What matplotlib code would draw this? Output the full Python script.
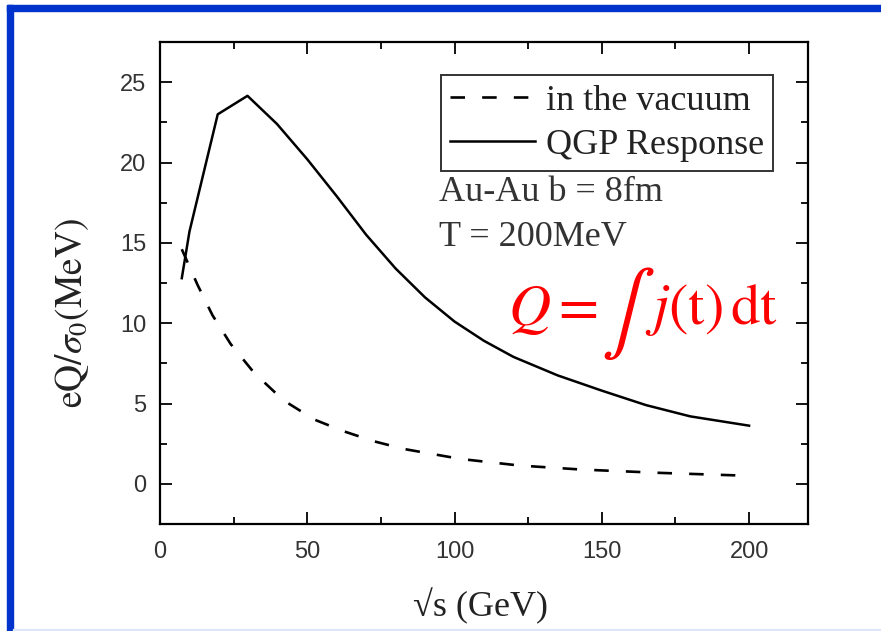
import numpy as np
import matplotlib
matplotlib.use("Agg")
import matplotlib.pyplot as plt
from matplotlib.patches import Rectangle

plt.rcParams['font.family'] = ['Liberation Sans', 'DejaVu Sans']
plt.rcParams['mathtext.fontset'] = 'stix'

# charge vs collision energy
sqrt_s_qgp = [7.4, 10.0, 19.6, 29.7, 39.7, 50.0, 60.0, 70.0, 80.0, 90.0, 100.0, 110.0,
              120.0, 135.0, 150.0, 165.0, 180.0, 200.0]
q_qgp = [12.8, 15.7, 23.0, 24.15, 22.4, 20.2, 17.9, 15.5, 13.4, 11.6, 10.1, 8.9,
         7.9, 6.75, 5.8, 4.9, 4.2, 3.62]

sqrt_s_vac = [7.4, 12.7, 17.8, 24.0, 32.0, 41.9, 52.4, 62.4, 72.6, 82.8, 102.0, 122.0,
              143.0, 170.0, 200.0]
q_vac = [14.6, 12.4, 10.5, 8.7, 6.9, 5.2, 4.0, 3.27, 2.65, 2.17, 1.55, 1.14,
         0.89, 0.68, 0.5]

x_ticks = [0, 50, 100, 150, 200]
y_ticks = [0, 5, 10, 15, 20, 25]

W, H = 881, 631
fig = plt.figure(figsize=(W / 100, H / 100), dpi=100, facecolor='white')
ax = fig.add_axes([160 / W, 1 - 524 / H, 648 / W, 482 / H])

ax.plot(sqrt_s_vac, q_vac, color='black', lw=1.9, dashes=(5.5, 6.5), label='in the vacuum')
ax.plot(sqrt_s_qgp, q_qgp, color='black', lw=1.8, label='QGP Response')

ax.set_xlim(0, 220)
ax.set_ylim(-2.5, 27.5)
ax.set_xticks(x_ticks)
ax.set_yticks(y_ticks)
ax.set_xticks(np.arange(25, 220, 50), minor=True)
ax.set_yticks(np.arange(2.5, 27.5, 5), minor=True)
ax.tick_params(which='both', direction='in', top=True, right=True, width=1.3,
               labelsize=17, labelcolor='#333333')
ax.tick_params(axis='x', pad=12)
ax.tick_params(axis='y', pad=10)
ax.tick_params(which='major', length=8.5)
ax.tick_params(which='minor', length=5)
for sp in ax.spines.values():
    sp.set_linewidth(1.6)

serif = ['Liberation Serif', 'DejaVu Serif']
ax.set_xlabel('√s (GeV)', fontsize=26, family=serif, color='#222222')
ax.xaxis.set_label_coords(0.494, -0.133)
ax.set_ylabel(r'$\mathrm{eQ}/\sigma_{0}\mathrm{(MeV)}$', fontsize=27, color='#222222')
ax.yaxis.set_label_coords(-0.106, 0.438)

leg = ax.legend(loc='upper right', bbox_to_anchor=(0.946, 0.931), borderaxespad=0,
                fancybox=False, edgecolor='#333333', framealpha=1,
                prop={'family': serif, 'size': 26}, handlelength=2.35,
                handletextpad=0.3, labelspacing=0.3, borderpad=0.25)
leg.get_frame().set_linewidth(1.4)
for t in leg.get_texts():
    t.set_color('#222222')

ax.text(0.431, 0.688, 'Au-Au b = 8fm', transform=ax.transAxes, fontsize=26,
        family=serif, color='#333333', va='center')
ax.text(0.431, 0.595, 'T = 200MeV', transform=ax.transAxes, fontsize=26,
        family=serif, color='#333333', va='center')

# red formula, integral sign drawn larger
ax.text(0.537, 0.444, r'$Q =$', transform=ax.transAxes, fontsize=42,
        color='red', va='center')
ax.text(0.680, 0.436, r'$\int$', transform=ax.transAxes, fontsize=58,
        color='red', va='center')
ax.text(0.749, 0.444, r'$j(\mathrm{t})\,\mathrm{dt}$', transform=ax.transAxes,
        fontsize=42, color='red', va='center')

# frame around the figure
fig.patches.append(Rectangle((7 / W, 1 - 11 / H), 1 - 7 / W, 6 / H,
                             transform=fig.transFigure, color='#0033cc', zorder=5))
fig.patches.append(Rectangle((7 / W, 0), 6 / W, 1 - 5 / H,
                             transform=fig.transFigure, color='#0033cc', zorder=5))
fig.patches.append(Rectangle((13 / W, 0), 1 - 13 / W, 2.5 / H,
                             transform=fig.transFigure, color='#dfe6f7', zorder=5))

fig.savefig('out.png', dpi=100, facecolor='white')
